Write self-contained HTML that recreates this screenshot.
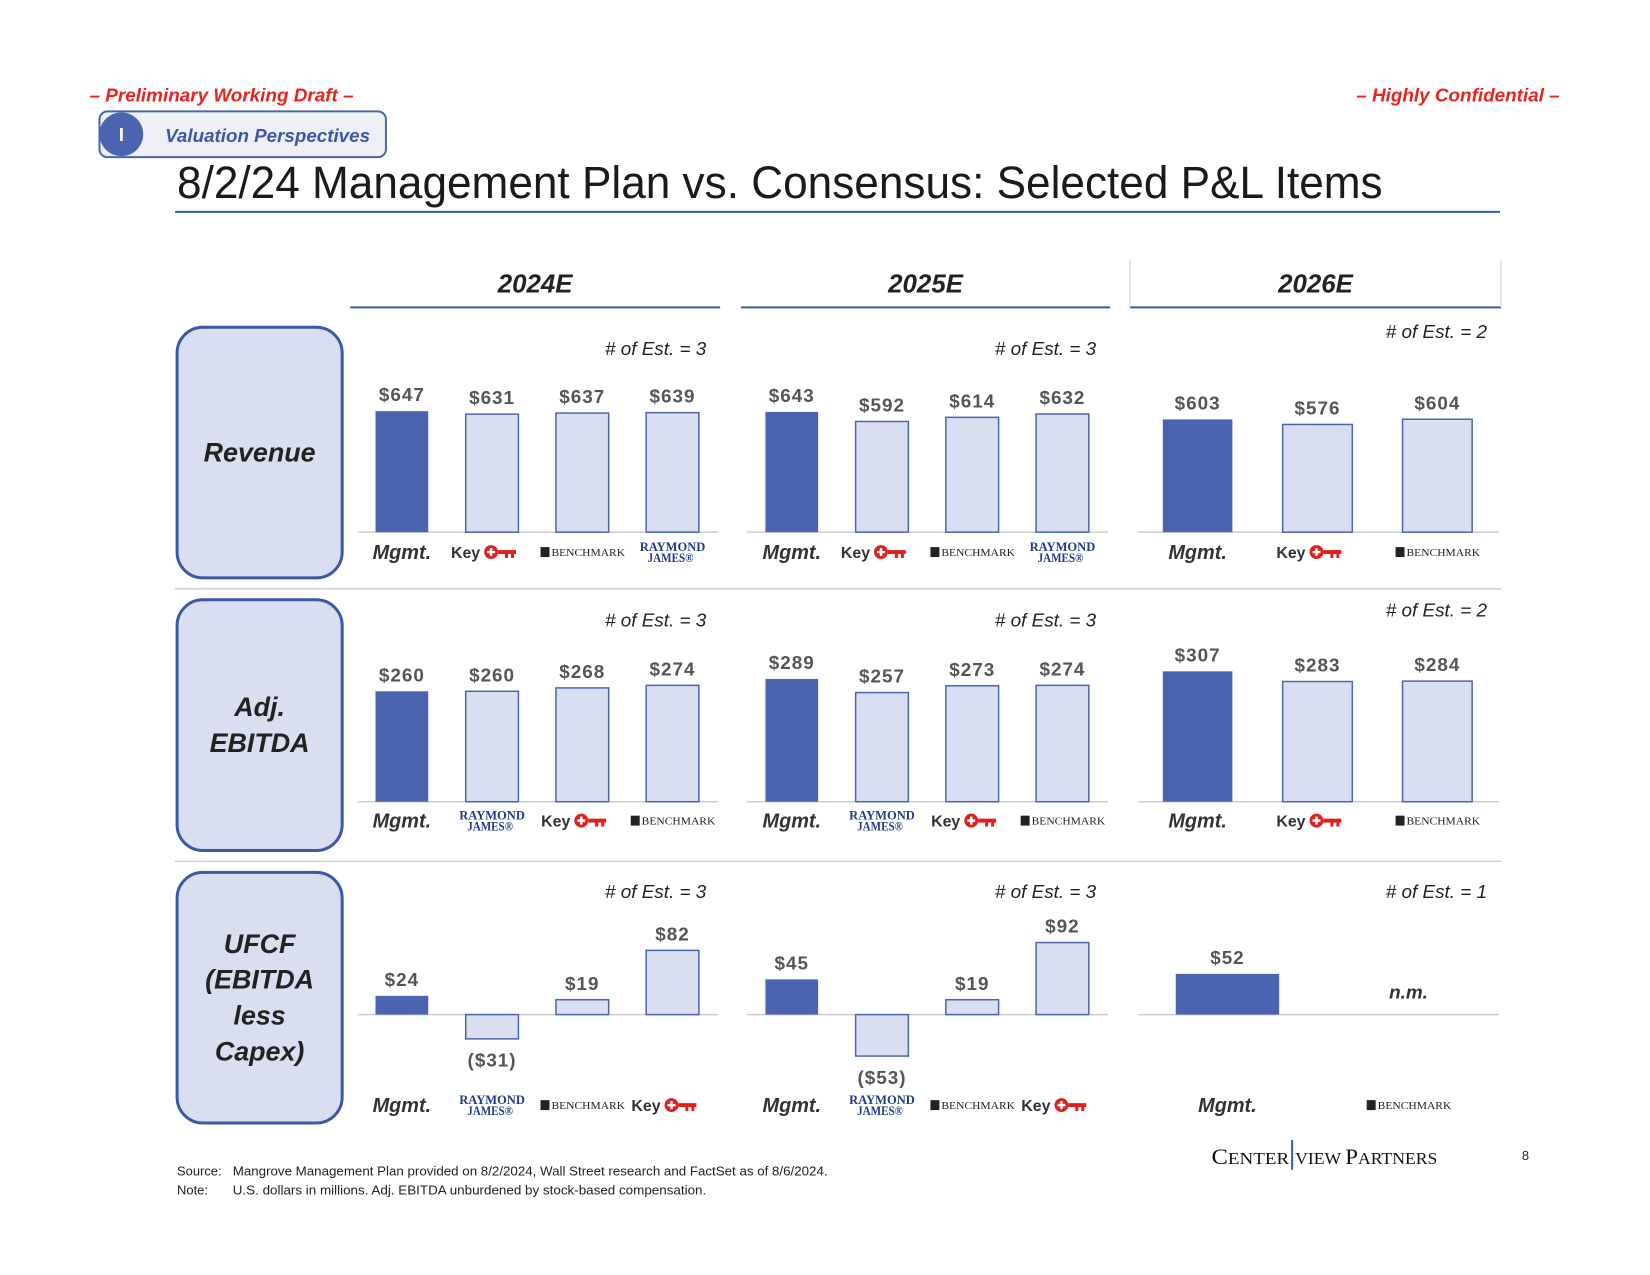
<!DOCTYPE html>
<html><head><meta charset="utf-8"><style>
html,body{margin:0;padding:0;background:#fff;}
svg{display:block;font-family:"Liberation Sans",sans-serif;}
</style></head><body>
<svg id="s" width="1650" height="1275" viewBox="0 0 1650 1275" xmlns="http://www.w3.org/2000/svg">
<g transform="scale(0.9947)">
<text x="90" y="102" font-size="19" font-weight="bold" font-style="italic" fill="#e8231f">– Preliminary Working Draft –</text>
<text x="1568" y="102" font-size="19" font-weight="bold" font-style="italic" fill="#e8231f" text-anchor="end">– Highly Confidential –</text>
<g>
<rect x="100" y="112" width="288" height="46" rx="8" fill="#eef0f6" stroke="#4a64b0" stroke-width="2"/>
<circle cx="122" cy="135" r="22" fill="#4a64b0"/>
<text x="122" y="142" font-size="19" font-weight="bold" fill="#fff" text-anchor="middle">I</text>
<text x="166" y="143" font-size="19" font-weight="bold" font-style="italic" fill="#3a57a8" textLength="206" lengthAdjust="spacingAndGlyphs">Valuation Perspectives</text>
</g>
<text x="178" y="199" font-size="46" fill="#1a1a1a" textLength="1212" lengthAdjust="spacingAndGlyphs">8/2/24 Management Plan vs. Consensus: Selected P&amp;L Items</text>
<line x1="176" y1="213" x2="1508" y2="213" stroke="#2e5ab8" stroke-width="2"/>
<g id="g"></g>
<text x="178" y="1182" font-size="13" fill="#222">Source:</text>
<text x="234" y="1182" font-size="13" fill="#222" textLength="598" lengthAdjust="spacingAndGlyphs">Mangrove Management Plan provided on 8/2/2024, Wall Street research and FactSet as of 8/6/2024.</text>
<text x="178" y="1201" font-size="13" fill="#222">Note:</text>
<text x="234" y="1201" font-size="13" fill="#222" textLength="476" lengthAdjust="spacingAndGlyphs">U.S. dollars in millions. Adj. EBITDA unburdened by stock-based compensation.</text>
<g>
<text x="1218" y="1170" font-family="Liberation Serif,serif" font-size="17" fill="#111" textLength="78" lengthAdjust="spacingAndGlyphs"><tspan font-size="22">C</tspan>ENTER</text>
<line x1="1299" y1="1146" x2="1299" y2="1176" stroke="#2e5ab8" stroke-width="2"/>
<text x="1302" y="1170" font-family="Liberation Serif,serif" font-size="17" fill="#111" textLength="143" lengthAdjust="spacingAndGlyphs">VIEW <tspan font-size="22">P</tspan>ARTNERS</text>
</g>
<text x="1530" y="1166" font-size="13" fill="#222">8</text>
</g>
</svg>
<script>
const years=["2024E","2025E","2026E"];
const rowNames=[["Revenue"],["Adj.","EBITDA"],["UFCF","(EBITDA","less","Capex)"]];
const rev2024=[647,631,637,639], rev2025=[643,592,614,632], rev2026=[603,576,604];
const ebitda2024=[260,260,268,274], ebitda2025=[289,257,273,274], ebitda2026=[307,283,284];
const ufcf2024=[24,-31,19,82], ufcf2025=[45,-53,19,92], ufcf2026=[52];
const estCounts=[[3,3,2],[3,3,2],[3,3,1]];
const cats=[
 [["Mgmt","Key","BM","RJ"],["Mgmt","Key","BM","RJ"],["Mgmt","Key","BM"]],
 [["Mgmt","RJ","Key","BM"],["Mgmt","RJ","Key","BM"],["Mgmt","Key","BM"]],
 [["Mgmt","RJ","BM","Key"],["Mgmt","RJ","BM","Key"],["Mgmt","BM"]]];
const vals=[[rev2024,rev2025,rev2026],[ebitda2024,ebitda2025,ebitda2026],[ufcf2024,ufcf2025,ufcf2026]];

const NS="http://www.w3.org/2000/svg";
const G=document.getElementById('g');
function mk(t,a,p){const e=document.createElementNS(NS,t);for(const k in a)e.setAttribute(k,a[k]);(p||G).appendChild(e);return e;}
function txt(x,y,s,a,p){const e=mk('text',Object.assign({x:x,y:y},a),p);e.textContent=s;return e;}

const baselines=[535,806,1020];
const scales=[0.188,0.427,0.787];
const boxY=[329,603,877];
const estY=[[357,357,340],[630,630,620],[903,903,903]];
const axisX=[[360,722],[751,1114],[1144,1507]];
const colStart=[[404,90.7,53],[796,90.7,53],[1204,120.5,70]];
const catY=[555,825,1111];

function y2px(r,v){return baselines[r]-v*scales[r];}

years.forEach((y,i)=>{
 const x0=[352,745,1136][i], x1=[724,1116,1509][i];
 const h=txt((x0+x1)/2,294,y,{'font-size':26,'font-weight':'bold','font-style':'italic','fill':'#222','text-anchor':'middle'});
 
 
 const l=mk('line',{x1:x0,y1:309,x2:x1,y2:309,stroke:'#2e5ab8','stroke-width':2});
 
 
});
mk('path',{d:'M1136 262 V309 M1509 262 V309',stroke:'#d6dbe8','stroke-width':1.5,fill:'none'});

[592,866].forEach(y=>{const l=mk('line',{x1:176,y1:y,x2:1509,y2:y,stroke:'#ccc','stroke-width':1.5});
 
 });

function logo(kind,cx,cy,r){
 const g=mk('g',{});
 
 
 if(kind==='Mgmt'){txt(cx,cy+7,'Mgmt.',{'font-size':20,'font-weight':'bold','font-style':'italic','fill':'#333','text-anchor':'middle'},g);}
 else if(kind==='Key'){
  txt(cx-12,cy+6,'Key',{'font-size':16,'font-weight':'bold','fill':'#333','text-anchor':'end'},g);
  mk('circle',{cx:cx-1,cy:cy,r:7,fill:'#e0201c'},g);
  mk('path',{d:`M${cx-5} ${cy} H${cx+3} M${cx-1} ${cy-4} V${cy+4}`,stroke:'#fff','stroke-width':2.5},g);
  mk('rect',{x:cx+6,y:cy-2,width:18,height:4,fill:'#e0201c'},g);
  mk('rect',{x:cx+13,y:cy,width:3,height:6,fill:'#e0201c'},g);
  mk('rect',{x:cx+19,y:cy,width:3,height:6,fill:'#e0201c'},g);
 } else if(kind==='BM'){
  mk('rect',{x:cx-42,y:cy-5,width:9,height:10,fill:'#222'},g);
  txt(cx-31,cy+4,'BENCHMARK',{'font-family':'Liberation Serif,serif','font-size':11,'fill':'#222',textLength:74,lengthAdjust:'spacingAndGlyphs'},g);
 } else {
  txt(cx,cy-1,'RAYMOND',{'font-family':'Liberation Serif,serif','font-size':13,'font-weight':'bold','fill':'#1f3c88','text-anchor':'middle',textLength:66,lengthAdjust:'spacingAndGlyphs'},g);
  txt(cx-2,cy+10,'JAMES®',{'font-family':'Liberation Serif,serif','font-size':13,'font-weight':'bold','fill':'#1f3c88','text-anchor':'middle',textLength:46,lengthAdjust:'spacingAndGlyphs'},g);
 }
}

for(let r=0;r<3;r++){
 const bg=mk('g',{});
 
 
 mk('rect',{x:178,y:boxY[r],width:166,height:252,rx:26,fill:'#d9dff0',stroke:'#3a57a8','stroke-width':3},bg);
 const n=rowNames[r].length, cy=boxY[r]+126;
 rowNames[r].forEach((s,i)=>txt(261,cy+9+(i-(n-1)/2)*36,s,{'font-size':27,'font-weight':'bold','font-style':'italic','fill':'#222','text-anchor':'middle'},bg));
 for(let c=0;c<3;c++){
  const base=baselines[r];
  const ax=mk('line',{x1:axisX[c][0],y1:base,x2:axisX[c][1],y2:base,stroke:'#ccc','stroke-width':1.5});
  
  
  const e=txt(axisX[c][1]-12,estY[r][c],'# of Est. = '+estCounts[r][c],{'font-size':19,'font-style':'italic','fill':'#222','text-anchor':'end'});
  
  
  const v=vals[r][c], cs=cats[r][c];
  let [x0,step,w]=colStart[c];
  const single=(r===2&&c===2);
  cs.forEach((k,i)=>{
   let cx=x0+i*step, cw=w;
   if(single){cx=[1234,1416][i];cw=104;}
   logo(k,cx,catY[r],r);
   if(i<v.length){
    const val=v[i], top=Math.min(y2px(r,val),base), h=Math.abs(y2px(r,val)-base);
    const b=mk('rect',{x:cx-cw/2,y:top,width:cw,height:h,fill:i===0?'#4a64b0':'#d9dff0',stroke:'#4a64b0','stroke-width':i===0?0:1.5});
    
    
    const lbl=val<0?'($'+(-val)+')':'$'+val;
    const ly=val<0?y2px(r,val)+28:y2px(r,val)-10;
    const t=txt(cx,ly,lbl,{'font-size':19,'font-weight':'bold','fill':'#555','text-anchor':'middle','letter-spacing':1});
    
    
   }
  });
  if(single){const t=txt(1416,1004,'n.m.',{'font-size':19,'font-weight':'bold','font-style':'italic','fill':'#333','text-anchor':'middle'});
   
   }
 }
}
</script>
</body></html>
